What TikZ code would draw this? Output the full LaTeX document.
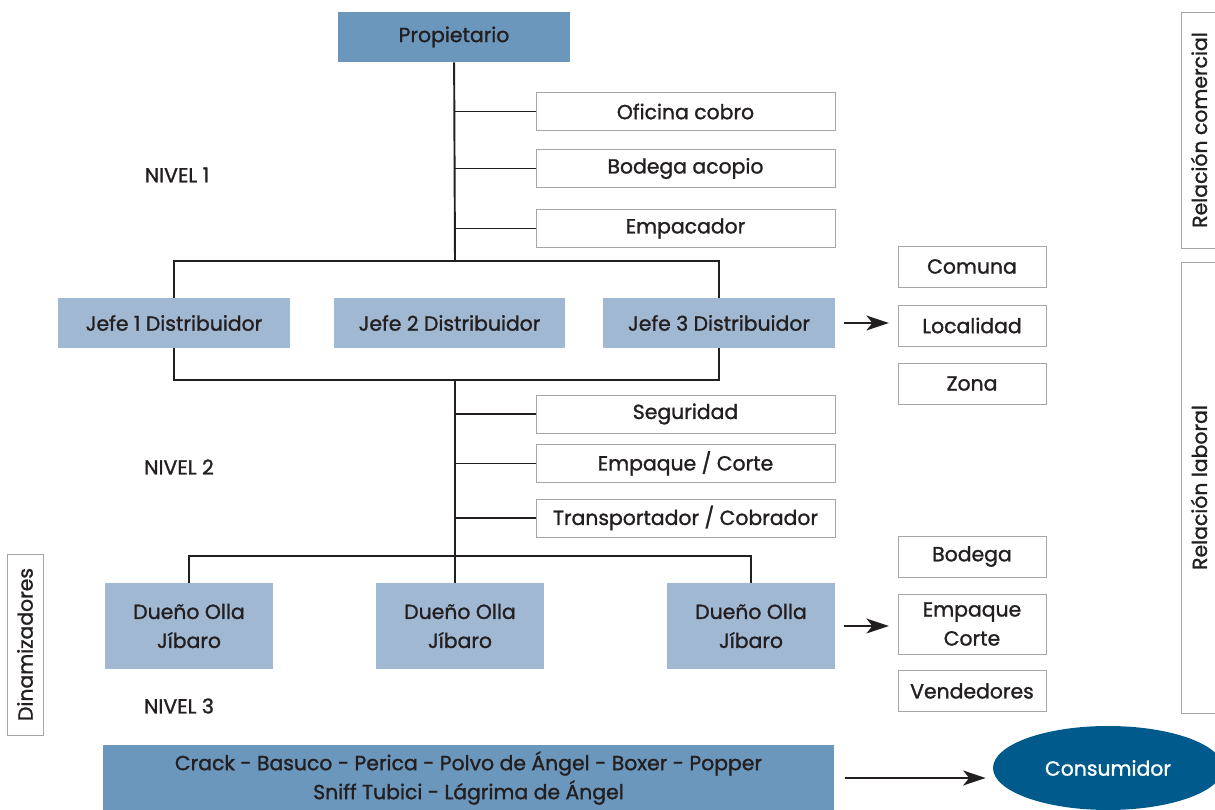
\documentclass[tikz,border=0pt]{standalone}
\usepackage{fontspec}
\setmainfont{Poppins}[UprightFeatures={FakeBold=1.3}]
\usetikzlibrary{arrows.meta,shapes.geometric}

\definecolor{darkblue}{RGB}{108,151,189}
\definecolor{lightblue}{RGB}{160,184,210}
\definecolor{deepblue}{RGB}{0,90,140}
\definecolor{inkgray}{RGB}{35,31,32}

\tikzset{
  every node/.style={font=\fontsize{11.6}{16.5}\selectfont, text=inkgray},
  headbox/.style={fill=darkblue, minimum width=4.64cm, minimum height=1cm},
  jefebox/.style={fill=lightblue, minimum width=4.64cm, minimum height=1cm},
  ollabox/.style={fill=lightblue, minimum width=3.36cm, minimum height=1.72cm, align=center},
  taskbox/.style={draw=gray!70, minimum width=5.98cm, minimum height=0.76cm},
  placebox/.style={draw=gray!70, minimum width=2.96cm, minimum height=0.82cm, align=center},
  tagbox/.style={draw=gray!70, rotate=90, minimum height=0.72cm},
  link/.style={draw=inkgray, line width=1.1pt},
  arr/.style={draw=inkgray, line width=0.9pt, -{Stealth[length=4.5mm,width=3mm,inset=1.2mm]}}
}

\begin{document}
\begin{tikzpicture}[x=0.02cm, y=-0.02cm]
\useasboundingbox (0,0) rectangle (1215,810);

\node[headbox] (prop) at (454,37) {Propietario};
\node[taskbox] (ofi) at (685.5,111.5) {Oficina cobro};
\node[taskbox] (bod) at (685.5,168.5) {Bodega acopio};
\node[taskbox] (emp) at (685.5,228.5) {Empacador};
\node (niv1) at (177,175) {NIVEL 1};

\node[jefebox] (j1) at (174,323) {Jefe 1 Distribuidor};
\node[jefebox] (j2) at (449.5,323) {Jefe 2 Distribuidor};
\node[jefebox] (j3) at (719,323) {Jefe 3 Distribuidor};

\node[placebox] (com) at (972,266.5) {Comuna};
\node[placebox] (loc) at (972,325.5) {Localidad};
\node[placebox] (zon) at (972,383.5) {Zona};

\node[taskbox] (seg) at (685.5,414) {Seguridad};
\node[taskbox] (empc) at (685.5,463.5) {Empaque / Corte};
\node[taskbox] (tra) at (685.5,518) {Transportador / Cobrador};
\node (niv2) at (179,467) {NIVEL 2};

\node[ollabox] (o1) at (189,626) {Dueño Olla\\Jíbaro};
\node[ollabox] (o2) at (460,626) {Dueño Olla\\Jíbaro};
\node[ollabox] (o3) at (751,626) {Dueño Olla\\Jíbaro};

\node[placebox] (bdg) at (972,556.5) {Bodega};
\node[placebox, minimum height=1.2cm] (epc) at (972,624) {Empaque\\Corte};
\node[placebox] (ven) at (972,691) {Vendedores};

\node (niv3) at (179,706) {NIVEL 3};
\node[tagbox, minimum width=3.62cm] (din) at (25,644.5) {Dinamizadores};
\node[tagbox, minimum width=4.72cm] (rcom) at (1199,130) {Relación comercial};
\node[tagbox, minimum width=9.02cm] (rlab) at (1199,487.5) {Relación laboral};

\node[headbox, minimum width=14.62cm, minimum height=1.28cm, align=center] (drug) at (468.5,778)
  {Crack - Basuco - Perica - Polvo de Ángel - Boxer - Popper\\Sniff Tubici - Lágrima de Ángel};
\node[ellipse, fill=deepblue, text=white, minimum width=4.6cm, minimum height=1.68cm] (cons) at (1108,768) {Consumidor};

\coordinate (top) at (455,261);
\coordinate (mid) at (455,380);
\coordinate (low) at (455,556);

\draw[link] (prop) -- (top);
\draw[link] (ofi.west) -- (ofi.west -| prop.south);
\draw[link] (bod.west) -- (bod.west -| prop.south);
\draw[link] (emp.west) -- (emp.west -| prop.south);
\draw[link] (j1.north) |- (top) -| (j3.north);
\draw[link] (j1.south) |- (mid) -| (j3.south);
\draw[link] (mid) -- (mid |- o2.north);
\draw[link] (seg.west) -- (seg.west -| mid);
\draw[link] (empc.west) -- (empc.west -| mid);
\draw[link] (tra.west) -- (tra.west -| mid);
\draw[link] (o1.north) |- (low) -| (o3.north);

\draw[arr, shorten <=5pt, shorten >=5pt] (j3.east) -- (j3.east -| loc.west);
\draw[arr, shorten <=5pt, shorten >=5pt] (o3.east) -- (o3.east -| epc.west);
\draw[arr, shorten <=6pt, shorten >=4pt] (drug.east) -- (drug.east -| cons.west);
\end{tikzpicture}
\end{document}
